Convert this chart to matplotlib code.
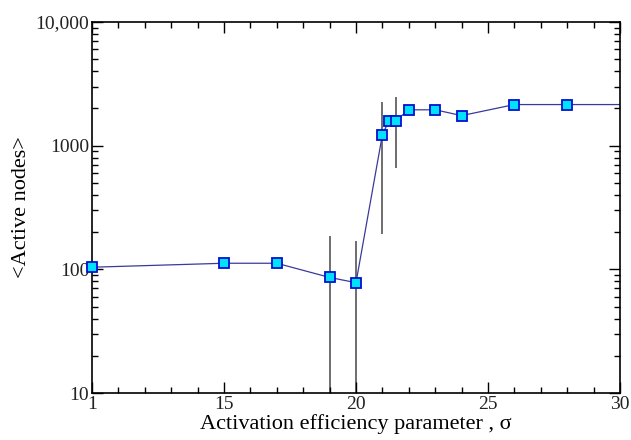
import numpy as np
import matplotlib
matplotlib.use("Agg")
import matplotlib.pyplot as plt
from matplotlib.ticker import FixedLocator, FixedFormatter, LogLocator, NullFormatter

# data
sigma = [10, 15, 17, 19, 20, 21, 21.25, 21.5, 22, 23, 24, 26, 28]
active = [104, 112, 112, 86, 78, 1230, 1590, 1590, 1950, 1950, 1750, 2150, 2150]
# line carries on to the right edge
line_sigma = sigma + [30]
line_active = active + [2150]

# error bars (low, high)
err_sigma = [19, 20, 21, 21.5]
err_low = [1, 1, 194, 664]
err_high = [185, 171, 2270, 2490]

xticks = [10, 15, 20, 25, 30]
xtick_labels = ["1", "15", "20", "25", "30"]
yticks = [10, 100, 1000, 10000]
ytick_labels = ["10", "100", "1000", "10,000"]

plt.rcParams['font.family'] = ['Liberation Serif', 'DejaVu Serif']

fig = plt.figure(figsize=(6.31, 4.4), dpi=100)
ax = fig.add_axes([0.1458, 0.1068, 0.9826 - 0.1458, 0.95 - 0.1068])

ax.vlines(err_sigma, err_low, err_high, colors="#6e6e6e", linewidth=1.4, zorder=1)
ax.plot(line_sigma, line_active, color="#3a3a9a", linewidth=0.9, zorder=2)
ax.plot(sigma, active, linestyle="none", marker="s", markersize=7.5,
        markerfacecolor="#00e0ff", markeredgecolor="#0010d0", markeredgewidth=1.3,
        zorder=3, clip_on=False)

ax.set_yscale("log")
ax.set_xlim(10, 30)
ax.set_ylim(10, 10000)

ax.xaxis.set_major_locator(FixedLocator(xticks))
ax.xaxis.set_major_formatter(FixedFormatter(xtick_labels))
ax.xaxis.set_minor_locator(FixedLocator(np.arange(10, 31, 1)))
ax.yaxis.set_major_locator(FixedLocator(yticks))
ax.yaxis.set_major_formatter(FixedFormatter(ytick_labels))
ax.yaxis.set_minor_locator(LogLocator(base=10, subs=np.arange(2, 10)))
ax.yaxis.set_minor_formatter(NullFormatter())

ax.tick_params(which="both", direction="in", top=True, right=True, labelsize=14,
               pad=2, labelcolor="#222222")
ax.tick_params(which="major", length=8, width=1)
ax.tick_params(which="minor", length=4, width=1)
for s in ax.spines.values():
    s.set_linewidth(1.2)

ax.set_xlabel("Activation efficiency parameter , σ", fontsize=16, labelpad=1)
ax.set_ylabel("<Active nodes>", fontsize=16, labelpad=3)

fig.savefig("out.png", dpi=100)
